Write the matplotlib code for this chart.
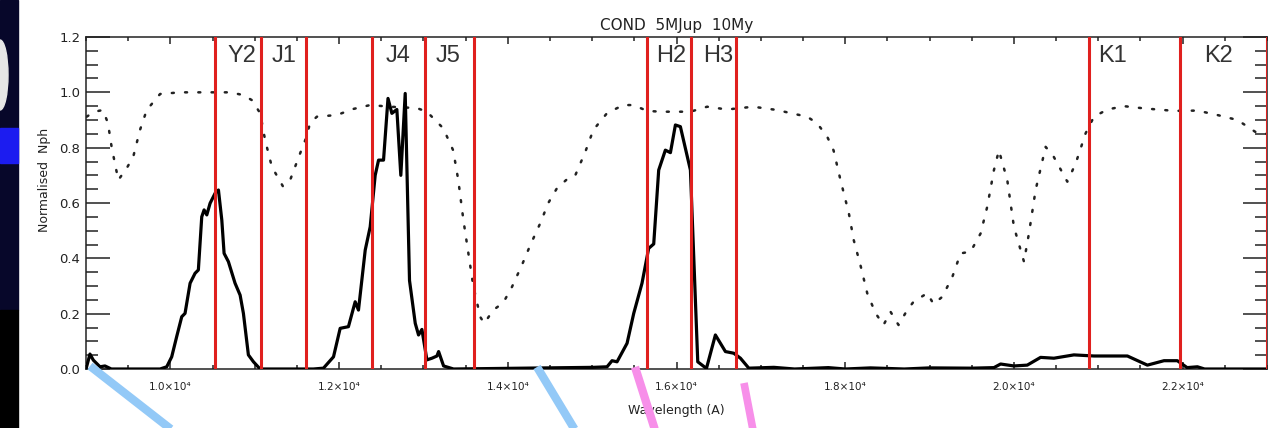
import numpy as np
import matplotlib
matplotlib.use("Agg")
import matplotlib.pyplot as plt
from matplotlib.lines import Line2D
from matplotlib.patches import Rectangle, Ellipse
from matplotlib.ticker import MultipleLocator, FuncFormatter

###############################################################################
##################################  DATA  #####################################
###############################################################################

# atmospheric transmission (dotted)
trans_wl = [9008, 9100, 9200, 9260, 9305, 9383, 9483, 9560, 9640, 9720, 9878,
            10115, 10400, 10708, 10866, 10965, 11064, 11123, 11203, 11333,
            11420, 11539, 11600, 11657, 11737, 11974, 12170, 12369, 12606,
            12923, 13041, 13235, 13353, 13413, 13473, 13532, 13591, 13674,
            13721, 13828, 13947, 14050, 14168, 14267, 14385, 14480, 14584,
            14718, 14800, 14919, 15014, 15177, 15370, 15489, 15651, 15809,
            16165, 16363, 16600, 16910, 17193, 17351, 17549, 17667, 17786,
            17862, 17944, 18043, 18101, 18185, 18261, 18359, 18454, 18537,
            18632, 18735, 18810, 18972, 19047, 19151, 19270, 19368, 19486,
            19605, 19684, 19763, 19822, 19921, 20000, 20119, 20178, 20257,
            20376, 20472, 20633, 20732, 20850, 20949, 21108, 21305, 21542,
            21898, 22175, 22412, 22650, 22887, 23000]
trans_val = [0.912, 0.93, 0.936, 0.889, 0.80, 0.683, 0.726, 0.767, 0.864, 0.936, 0.994,
             1.0, 1.0, 1.0, 0.99, 0.972, 0.925, 0.828, 0.731, 0.661,
             0.683, 0.78, 0.828, 0.889, 0.912, 0.918, 0.94, 0.954, 0.948,
             0.943, 0.93, 0.87, 0.79, 0.683, 0.54, 0.42, 0.30, 0.188,
             0.165, 0.213, 0.24, 0.297, 0.376, 0.448, 0.527, 0.60, 0.654,
             0.69, 0.70, 0.785, 0.864, 0.925, 0.954, 0.954, 0.933, 0.93,
             0.93, 0.948, 0.938, 0.948, 0.936, 0.925, 0.912, 0.888, 0.84,
             0.79, 0.683, 0.563, 0.466, 0.37, 0.274, 0.202, 0.159, 0.207,
             0.159, 0.213, 0.243, 0.274, 0.235, 0.261, 0.333, 0.418, 0.424,
             0.49, 0.587, 0.719, 0.79, 0.683, 0.514, 0.388, 0.49, 0.647,
             0.803, 0.767, 0.677, 0.743, 0.852, 0.912, 0.938, 0.95, 0.942,
             0.933, 0.934, 0.918, 0.90, 0.852, 0.85]

# COND 5MJup 10My spectrum (solid)
spec_wl = [9000, 9047, 9087, 9166, 9225, 9300, 9878, 9957, 10016, 10075, 10135,
           10174, 10234, 10293, 10332, 10372, 10400, 10432, 10471, 10530,
           10570, 10610, 10637, 10688, 10767, 10827, 10866, 10925, 10985,
           11064, 11696, 11815, 11934, 12013, 12111, 12191, 12230, 12310,
           12369, 12428, 12468, 12527, 12580, 12626, 12685, 12732, 12784,
           12812, 12835, 12903, 12942, 12982, 13041, 13101, 13160, 13180,
           13239, 13357, 15018, 15177, 15236, 15295, 15414, 15493, 15591,
           15670, 15730, 15789, 15868, 15928, 15987, 16046, 16165, 16252,
           16355, 16461, 16580, 16679, 16758, 16857, 17154, 17400, 17800,
           18000, 18300, 18700, 19000, 19500, 19763, 19842, 20000, 20158,
           20316, 20474, 20711, 20949, 21345, 21582, 21779, 21937, 22053,
           22175, 22260, 23000]
spec_val = [0.0, 0.054, 0.032, 0.008, 0.011, 0.0, 0.0, 0.008, 0.044, 0.117, 0.189,
            0.201, 0.31, 0.346, 0.358, 0.55, 0.575, 0.557, 0.599, 0.635,
            0.647, 0.538, 0.418, 0.388, 0.31, 0.267, 0.201, 0.051, 0.026,
            0.0, 0.0, 0.003, 0.044, 0.147, 0.153, 0.243, 0.213, 0.43,
            0.514, 0.70, 0.755, 0.755, 0.978, 0.924, 0.938, 0.70, 0.996,
            0.623, 0.32, 0.165, 0.123, 0.143, 0.033, 0.039, 0.047, 0.063,
            0.011, 0.0, 0.006, 0.008, 0.03, 0.026, 0.093, 0.201, 0.31,
            0.436, 0.452, 0.719, 0.791, 0.782, 0.882, 0.876, 0.719, 0.026,
            0.002, 0.123, 0.063, 0.057, 0.039, 0.003, 0.006, 0.0, 0.005,
            0.0, 0.004, 0.0, 0.004, 0.003, 0.005, 0.018, 0.011, 0.014,
            0.042, 0.039, 0.051, 0.047, 0.047, 0.014, 0.03, 0.03, 0.005,
            0.008, 0.0, 0.0]

# filter band edges (red lines) and band names / centres
band_edges = [10530, 11076, 11610, 12393, 13021, 13603, 15655, 16177, 16711,
              20886, 21966, 23000]
band_names = ["Y2", "J1", "J4", "J5", "H2", "H3", "K1", "K2"]
band_centres = [10850, 11350, 12700, 13295, 15940, 16490, 21170, 22430]

###############################################################################
##################################  PLOT  #####################################
###############################################################################

W, H = 1268, 428
fig = plt.figure(figsize=(W / 100, H / 100), dpi=100)
fig.patch.set_facecolor("white")

ax = fig.add_axes([86 / W, 1 - 369 / H, (1267 - 86) / W, (369 - 37) / H])

ax.plot(trans_wl, trans_val, color="#222222", lw=1.8,
        linestyle=(0, (0.8, 4.5)), dash_capstyle="round", zorder=2)
ax.plot(spec_wl, spec_val, color="black", lw=2.3, zorder=3)

for e in band_edges:
    ax.axvline(e, color="#e0201e", lw=2.2, zorder=4)

for name, c in zip(band_names, band_centres):
    ax.text(c, 1.13, name, ha="center", va="center", fontsize=17,
            family="Liberation Sans", color="#333333", zorder=5)

ax.set_xlim(9000, 23000)
ax.set_ylim(0, 1.2)

ax.xaxis.set_major_locator(MultipleLocator(2000))
ax.xaxis.set_minor_locator(MultipleLocator(500))
ax.yaxis.set_major_locator(MultipleLocator(0.2))
ax.yaxis.set_minor_locator(MultipleLocator(0.05))
ax.xaxis.set_major_formatter(FuncFormatter(lambda v, p: "%.1f×10⁴" % (v / 1e4)))
ax.yaxis.set_major_formatter(FuncFormatter(lambda v, p: "%.1f" % v))

ax.tick_params(axis="x", which="both", direction="in", top=True, bottom=True,
               width=1.1, labelsize=7.5, pad=9, colors="#222222")
ax.tick_params(axis="x", which="major", length=5)
ax.tick_params(axis="x", which="minor", length=3)
ax.tick_params(axis="y", which="both", direction="in", left=True, right=True,
               width=1.1, labelsize=9.5, pad=4, colors="#222222")
ax.tick_params(axis="y", which="major", length=17)
ax.tick_params(axis="y", which="minor", length=8.5)

for s in ax.spines.values():
    s.set_linewidth(1.1)
    s.set_color("#222222")

ax.set_title("COND  5MJup  10My", fontsize=11, pad=5, color="#222222")
ax.set_xlabel("Wavelength (A)", fontsize=9, color="#222222")
ax.set_ylabel("Normalised  Nph", fontsize=9, color="#222222")
ax.xaxis.set_label_coords(0.5, -0.105)
ax.yaxis.set_label_coords(-0.030, 0.57)

# slide decorations around the chart (left strip and coloured strokes)
def px(x, y):
    return x / W, 1 - y / H

fig.add_artist(Rectangle(px(0, 310), 18 / W, 310 / H, transform=fig.transFigure,
                         color="#07072a", zorder=0))
fig.add_artist(Rectangle(px(0, 428), 18 / W, 118 / H, transform=fig.transFigure,
                         color="black", zorder=0))
fig.add_artist(Ellipse(px(0, 75), 16 / W, 70 / H, transform=fig.transFigure,
                       color="#e6e6e6", zorder=1))
fig.add_artist(Rectangle(px(0, 163), 18 / W, 35 / H, transform=fig.transFigure,
                         color="#1c1cf0", zorder=1))

strokes = [((90, 366), (172, 430), "#93c9f7", 6.0),
           ((537, 367), (575, 430), "#93c9f7", 6.0),
           ((635, 367), (655, 430), "#f78fe9", 6.0),
           ((744, 383), (753, 430), "#f78fe9", 5.5)]
for p0, p1, col, lw in strokes:
    a, b = px(*p0), px(*p1)
    fig.add_artist(Line2D([a[0], b[0]], [a[1], b[1]], transform=fig.transFigure,
                          color=col, lw=lw, solid_capstyle="butt", zorder=10))

fig.savefig("out.png", dpi=100)
